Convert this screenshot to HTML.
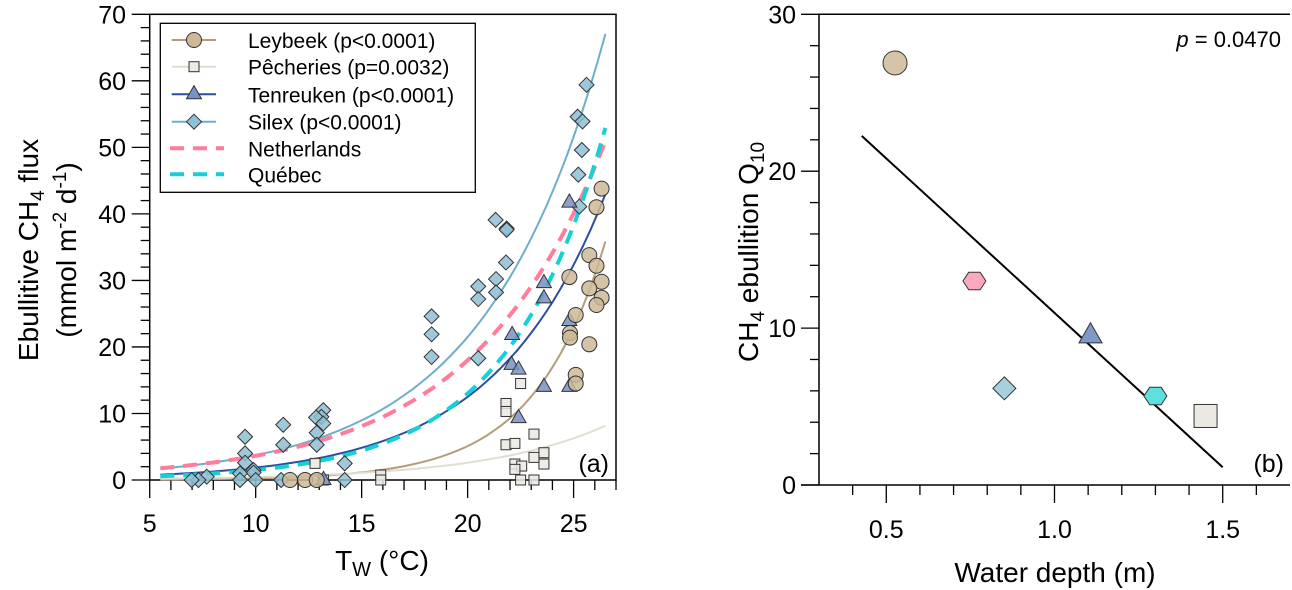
<!DOCTYPE html>
<html><head><meta charset="utf-8">
<style>
body{margin:0;background:#fff;}
svg{display:block;font-family:"Liberation Sans",Arial,sans-serif;}
</style></head>
<body>
<svg id="chart" width="1292" height="590" viewBox="0 0 1292 590" xmlns="http://www.w3.org/2000/svg">
<g id="pa"></g>
<g id="pb"></g>
</svg>
<script>
// ---------- Panel (a) data ----------
const seriesNames = ["Leybeek","Pêcheries","Tenreuken","Silex","Netherlands","Québec"];
const curveY20 = [5.1, 2.6, 12.5, 21.5, 18.0, 13.0];
const curveK = [0.30, 0.176, 0.19, 0.175, 0.16, 0.216];
const curveTmin = [5.5, 5.5, 5.5, 5.5, 5.5, 5.5];
const curveTmax = [26.5, 26.5, 26.5, 26.5, 26.5, 26.5];
const leyT = [26.32,26.08,25.74,26.08,24.8,26.32,25.74,26.32,26.08,25.1,24.83,24.83,25.74,25.1,25.1,11.62,12.33,12.88];
const leyF = [43.8,41.0,33.8,32.2,30.5,29.8,28.8,27.4,26.3,24.8,22.1,21.4,20.4,15.8,14.5,0,0,0];
const pecT = [22.5,21.81,21.81,23.13,21.81,22.23,23.6,23.6,23.13,22.23,22.55,22.23,22.5,23.13,12.8,12.8,13.2,15.9,15.9];
const pecF = [14.5,11.5,10.3,6.9,5.3,5.5,4.1,2.4,3.4,2.4,2.1,1.6,0,0,2.5,0,0,0.75,0];
const tenT = [24.8,23.6,23.6,22.1,24.8,22.07,22.4,23.6,24.8,22.4,13.2];
const tenF = [41.7,29.6,27.3,21.8,23.9,17.3,16.6,14.0,14.0,9.3,0];
const silT = [25.61,25.19,25.42,25.39,25.22,25.27,21.32,21.84,21.84,21.81,21.34,20.5,21.34,20.5,18.3,18.3,18.3,20.5,13.19,13.1,12.85,13.19,12.88,12.88,11.3,11.3,9.5,9.5,9.5,9.9,9.9,10.0,9.26,9.26,7.69,7.3,6.98,11.2,14.2,14.2];
const silF = [59.4,54.6,53.9,49.6,45.9,41.1,39.1,37.8,37.6,32.7,30.2,29.1,28.2,27.2,24.6,21.9,18.5,18.3,10.5,9.5,9.4,8.5,7.1,5.3,8.3,5.3,6.5,4.0,2.6,1.5,1.1,0,1.0,0,0.5,0,0,0,2.5,0];
const xTicksA = [5,10,15,20,25];
const yTicksA = [0,10,20,30,40,50,60,70];
const legendLabels = ["Leybeek (p<0.0001)","Pêcheries (p=0.0032)","Tenreuken (p<0.0001)","Silex (p<0.0001)","Netherlands","Québec"];

// ---------- Panel (b) data ----------
const depthNames = ["Leybeek","Netherlands","Silex","Tenreuken","Québec","Pêcheries"];
const depthX = [0.526, 0.762, 0.851, 1.107, 1.30, 1.449];
const q10Y = [26.9, 13.0, 6.16, 9.5, 5.67, 4.4];
const fitX = [0.427, 1.5];
const fitY = [22.25, 1.13];
const xTicksB = [0.5, 1.0, 1.5];
const yTicksB = [0, 10, 20, 30];

const NS = "http://www.w3.org/2000/svg";
function mk(parent, tag, attrs, text){
  const e = document.createElementNS(NS, tag);
  for (const k in attrs) e.setAttribute(k, attrs[k]);
  if (text !== undefined) e.textContent = text;
  parent.appendChild(e);
  return e;
}
const pa = document.getElementById('pa');
const pb = document.getElementById('pb');

const AX0=149.7, AX1=616, AY0=480, AY1=14.3, TMIN=5, TMAX=27, FMAX=70;
const xA = t => AX0 + (t-TMIN)/(TMAX-TMIN)*(AX1-AX0);
const yA = f => AY0 - f/FMAX*(AY0-AY1);

const colorsLine = ["#b39d7a","#e2ddd3","#2b4ea3","#6eaec8","#ff7c9a","#15d0d6"];
const colorsFill = ["#cdb996","#ece9e3","#7891c6","#8ec0d3"];

let fr = mk(pa,'rect',{x:AX0,y:AY1,width:AX1-AX0,height:AY0-AY1,fill:'none',stroke:'#000','stroke-width':1.5});
 
for (let t=5;t<=27;t++){
  const major = t%5===0;
  let l = mk(pa,'line',{x1:xA(t),x2:xA(t),y1:AY0,y2:AY0+(major?18:10),stroke:'#000','stroke-width':1.3});
   
}
xTicksA.forEach(t=>{
  let e = mk(pa,'text',{x:xA(t),y:532,'font-size':25,'text-anchor':'middle'},String(t));
   
});
for (let f=0;f<=70;f+=2){
  const major = f%10===0;
  let l = mk(pa,'line',{x1:AX0-(major?18:9),x2:AX0,y1:yA(f),y2:yA(f),stroke:'#000','stroke-width':1.3});
   
}
yTicksA.forEach(f=>{
  let e = mk(pa,'text',{x:126,y:yA(f)+9,'font-size':25,'text-anchor':'end'},String(f));
   
});
let xt = mk(pa,'text',{x:382,y:570,'font-size':28,'text-anchor':'middle'});
 
xt.innerHTML = 'T<tspan font-size="20" dy="6">W</tspan><tspan dy="-6"> (°C)</tspan>';
let yt1 = mk(pa,'text',{x:0,y:0,'font-size':28,'text-anchor':'middle',transform:'translate(38,250) rotate(-90)'});
 
yt1.innerHTML = 'Ebullitive CH<tspan font-size="19" dy="6">4</tspan><tspan dy="-6"> flux</tspan>';
let yt2 = mk(pa,'text',{x:0,y:0,'font-size':28,'text-anchor':'middle',transform:'translate(76,250) rotate(-90)'});
 
yt2.innerHTML = '(mmol m<tspan font-size="19" dy="-10">-2</tspan><tspan dy="10"> d</tspan><tspan font-size="19" dy="-10">-1</tspan><tspan dy="10">)</tspan>';

for (let i=0;i<6;i++){
  let d='';
  for (let s=0;s<=60;s++){
    const t = curveTmin[i] + (curveTmax[i]-curveTmin[i])*s/60;
    const f = curveY20[i]*Math.exp(curveK[i]*(t-20));
    d += (s?'L':'M')+xA(t).toFixed(1)+','+yA(f).toFixed(1);
  }
  const attrs = {d:d,fill:'none',stroke:colorsLine[i],'stroke-width':i>=4?4:2};
  if (i>=4) attrs['stroke-dasharray'] = '14,9';
  let p = mk(pa,'path',attrs);
  
  
}

function marker(parent, type, cx, cy, s, fill){
  let e;
  if (type==='circle') e = mk(parent,'circle',{cx:cx,cy:cy,r:s});
  else if (type==='square') e = mk(parent,'rect',{x:cx-s,y:cy-s,width:2*s,height:2*s});
  else if (type==='triangle') e = mk(parent,'polygon',{points:`${cx},${cy-s*1.15} ${cx-s},${cy+s*0.6} ${cx+s},${cy+s*0.6}`});
  else if (type==='diamond') e = mk(parent,'polygon',{points:`${cx},${cy-s} ${cx+s},${cy} ${cx},${cy+s} ${cx-s},${cy}`});
  else if (type==='hexagon'){
    let pts=[]; for(let k=0;k<6;k++){const a=Math.PI/3*k; pts.push((cx+s*Math.cos(a)).toFixed(1)+','+(cy+s*0.88*Math.sin(a)).toFixed(1));}
    e = mk(parent,'polygon',{points:pts.join(' ')});
  }
  e.setAttribute('fill',fill); e.setAttribute('stroke','#333'); e.setAttribute('stroke-width',1);
  return e;
}
const groupsT=[pecT,silT,tenT,leyT], groupsF=[pecF,silF,tenF,leyF];
const gType=['square','diamond','triangle','circle'], gIdx=[1,3,2,0], gSize=[5,7.5,7.5,7.5];
for (let g=0;g<4;g++){
  for (let j=0;j<groupsT[g].length;j++){
    let m = marker(pa,gType[g],xA(groupsT[g][j]),yA(groupsF[g][j]),gSize[g],colorsFill[gIdx[g]]);
    m.setAttribute('fill-opacity',0.85);
    
    
  }
}
let la = mk(pa,'text',{x:609,y:472,'font-size':25,'text-anchor':'end'},'(a)');
 

let lg = mk(pa,'g',{});
 
mk(lg,'rect',{x:160.3,y:23.3,width:315,height:169,fill:'#fff',stroke:'#000','stroke-width':1.3});
const rowY=[40,66.7,94.3,121.7,148.3,174.3];
const legMark=['circle','square','triangle','diamond',null,null], legSz=[7.5,5,7.5,7.5];
for (let r=0;r<6;r++){
  let ge = mk(lg,'g',{});
   
  const attrs={x1:r>=4?170:171.7,x2:r>=4?224:216,y1:rowY[r],y2:rowY[r],stroke:colorsLine[r],'stroke-width':r>=4?4:2};
  if (r>=4) attrs['stroke-dasharray']='14,9';
  mk(ge,'line',attrs);
  if (legMark[r]) marker(ge,legMark[r],194,rowY[r],legSz[r],colorsFill[r]);
  mk(ge,'text',{x:248,y:rowY[r]+8,'font-size':21},legendLabels[r]);
}

// ---------- Panel (b) ----------
const BX0=819, BX1=1290, BY0=485, BY1=14.3, DMIN=0.3, DMAX=1.7, QMAX=30;
const xB = d => BX0 + (d-DMIN)/(DMAX-DMIN)*(BX1-BX0);
const yB = q => BY0 - q/QMAX*(BY0-BY1);
let frb = mk(pb,'path',{d:`M${BX0},${BY0}V${BY1}H${BX1}`,fill:'none',stroke:'#000','stroke-width':1.5});
 
let xab = mk(pb,'line',{x1:BX0-18,x2:BX1,y1:BY0,y2:BY0,stroke:'#000','stroke-width':1.5});
 
for (let k=4;k<=16;k++){
  const d=k/10, major=(k%5===0);
  let l = mk(pb,'line',{x1:xB(d),x2:xB(d),y1:BY0,y2:BY0+(major?18:10),stroke:'#000','stroke-width':1.3});
   
}
xTicksB.forEach(d=>{
  let e = mk(pb,'text',{x:xB(d),y:538,'font-size':25,'text-anchor':'middle'},d.toFixed(1));
   
});
for (let q=0;q<=30;q+=2){
  const major=q%10===0;
  let l = mk(pb,'line',{x1:BX0-(major?18:9),x2:BX0,y1:yB(q),y2:yB(q),stroke:'#000','stroke-width':1.3});
   
}
yTicksB.forEach(q=>{
  let e = mk(pb,'text',{x:796,y:yB(q)+9,'font-size':25,'text-anchor':'end'},String(q));
   
});
let xtb = mk(pb,'text',{x:1055,y:582,'font-size':28,'text-anchor':'middle'},'Water depth (m)');
 
let ytb = mk(pb,'text',{x:0,y:0,'font-size':28,'text-anchor':'middle',transform:'translate(758,252) rotate(-90)'});
 
ytb.innerHTML='CH<tspan font-size="19" dy="6">4</tspan><tspan dy="-6"> ebullition  Q</tspan><tspan font-size="19" dy="6">10</tspan>';
let fl = mk(pb,'line',{x1:xB(fitX[0]),y1:yB(fitY[0]),x2:xB(fitX[1]),y2:yB(fitY[1]),stroke:'#000','stroke-width':2});
 
const bType=['circle','hexagon','diamond','triangle','hexagon','square'];
const bFill=['#d4c4a8','#f9a8c0','#a8d0dc','#7f98c8','#5fe0e0','#ece9e3'];
const bSize=[12,11.5,11.5,11.5,11.5,11.5];
for (let i=0;i<depthX.length;i++){
  let m = marker(pb,bType[i],xB(depthX[i]),yB(q10Y[i]),bSize[i],bFill[i]);
  
  
}
let pt = mk(pb,'text',{x:1281,y:47,'font-size':22,'text-anchor':'end'});
 
pt.innerHTML='<tspan font-style="italic">p</tspan> = 0.0470';
let lb = mk(pb,'text',{x:1284,y:472,'font-size':25,'text-anchor':'end'},'(b)');
 
</script>
</body></html>
